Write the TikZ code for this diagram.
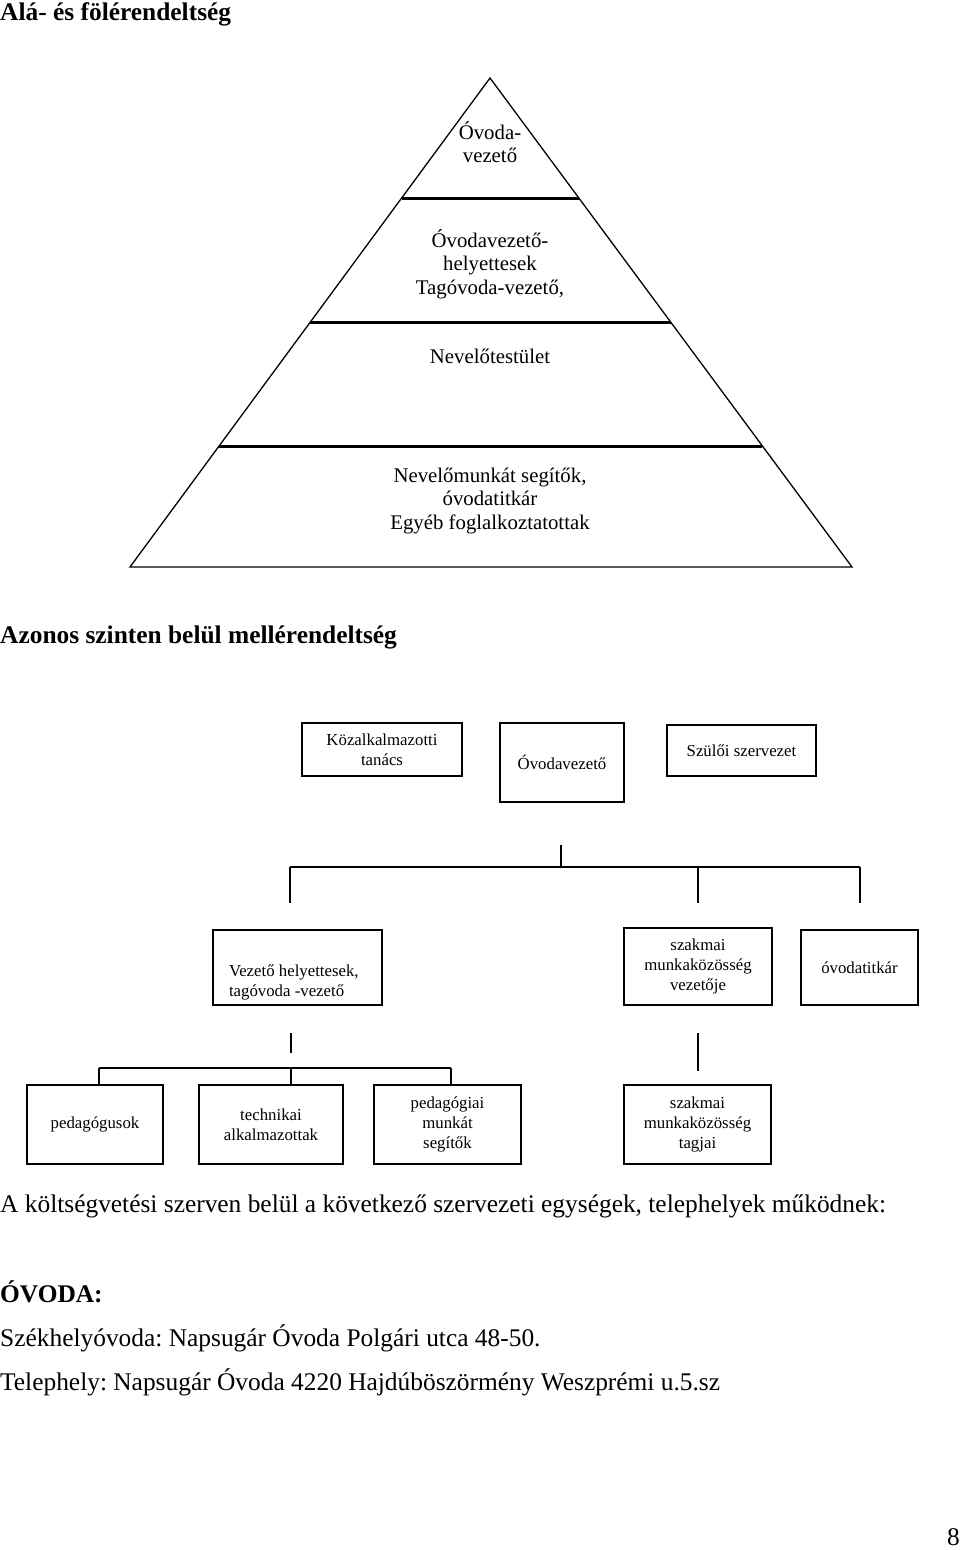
\documentclass[tikz,border=0pt]{standalone}
\usepackage{fontspec}
\setmainfont{Liberation Serif}
\usetikzlibrary{positioning,calc}
\frenchspacing

\begin{document}
\begin{tikzpicture}[x=1pt, y=-1pt,
  heading/.style={anchor=base west, inner sep=0pt, font=\fontsize{25.4}{30}\selectfont\bfseries},
  bodytext/.style={anchor=base west, inner sep=0pt, font=\fontsize{25.4}{30}\selectfont},
  pyrtext/.style={align=center, inner sep=0pt, font=\fontsize{20.8}{23.5}\selectfont},
  box/.style={draw, line width=2pt, align=center, inner sep=0pt, font=\fontsize{16.8}{20}\selectfont},
  conn/.style={line width=2pt},
  level/.style={line width=3pt}]
\useasboundingbox (0,0) rectangle (960,1550);

\node[heading] (title) at (0,20) {Alá- és fölérendeltség};

% pyramid
\coordinate (apex) at (490,78);
\coordinate (baseL) at (130,567);
\coordinate (baseR) at (852,567);
\draw[line width=1.3pt, line join=miter] (apex) -- (baseL) -- (baseR) -- cycle;
\draw[level] ($(apex)!0.2454!(baseL)$) -- ($(apex)!0.2454!(baseR)$);
\draw[level] ($(apex)!0.499!(baseL)$) -- ($(apex)!0.499!(baseR)$);
\draw[level] ($(apex)!0.7526!(baseL)$) -- ($(apex)!0.7526!(baseR)$);

\node[pyrtext] (lvla) at (490,142) {Óvoda-\\vezető};
\node[pyrtext] (lvlb) at (490,264) {Óvodavezető-\\helyettesek\\Tagóvoda-vezető,};
\node[pyrtext] (lvlc) at (490,356) {Nevelőtestület};
\node[pyrtext] (lvld) at (490,501) {Nevelőmunkát segítők,\\óvodatitkár\\Egyéb foglalkoztatottak};

\node[heading] (sub) at (0,643) {Azonos szinten belül mellérendeltség};

% first chart
\node[box, minimum width=160pt, minimum height=53pt] (koztan) at (382,749.5) {Közalkalmazotti\\tanács};
\node[box, minimum width=124pt, minimum height=79pt] (vezeto) at (562,762.5) {Óvodavezető};
\node[box, minimum width=149pt, minimum height=51pt] (szulo) at (741.5,750.5) {Szülői szervezet};

\node[box, minimum width=169pt, minimum height=75pt] (helyettes) at (297.5,967.5) {};
\node[box, draw=none, align=left, anchor=west] (helytext) at ([xshift=16pt, yshift=-15pt]helyettes.west) {Vezető helyettesek,\\tagóvoda -vezető};
\node[box, minimum width=148pt, minimum height=77pt] (mkvez) at (698,966.5) {szakmai\\munkaközösség\\vezetője};
\node[box, minimum width=117pt, minimum height=75pt] (titkar) at (859.5,967.5) {\raisebox{-4pt}{óvodatitkár}};

\coordinate (stema) at (561,845);
\coordinate (bara) at (561,867);
\coordinate (barl) at (290,867);
\coordinate (barm) at (698,867);
\coordinate (barr) at (860,867);
\draw[conn] (stema) -- (bara);
\draw[conn] (barl) -- (barr);
\draw[conn] (barl) -- ++(0,36);
\draw[conn] (barm) -- ++(0,36);
\draw[conn] (barr) -- ++(0,36);

% second chart
\node[box, minimum width=136pt, minimum height=79pt] (pedag) at (95,1124.5) {pedagógusok};
\node[box, minimum width=144pt, minimum height=79pt] (techn) at (271,1124.5) {technikai\\alkalmazottak};
\node[box, minimum width=147pt, minimum height=79pt] (pedmunka) at (447.5,1124.5) {pedagógiai\\munkát\\segítők};
\node[box, minimum width=147pt, minimum height=79pt] (mktag) at (697.5,1124.5) {szakmai\\munkaközösség\\tagjai};

\coordinate (stemb) at (291,1033);
\coordinate (barbl) at (99,1068);
\coordinate (barbm) at (291,1068);
\coordinate (barbr) at (451,1068);
\draw[conn] (stemb) -- ++(0,20);
\draw[conn] (barbl) -- (barbr);
\draw[conn] (barbl) -- (barbl |- pedag.north);
\draw[conn] (barbm) -- (barbm |- techn.north);
\draw[conn] (barbr) -- (barbr |- pedmunka.north);
\coordinate (stemc) at (698,1033);
\draw[conn] (stemc) -- ++(0,38);

\node[bodytext] (units) at (0,1212) {A költségvetési szerven belül a következő szervezeti egységek, telephelyek működnek:};
\node[heading] (ovoda) at (0,1302) {ÓVODA:};
\node[bodytext] (szekhely) at (0,1346) {Székhelyóvoda: Napsugár Óvoda Polgári utca 48-50.};
\node[bodytext] (telep) at (0,1390) {Telephely: Napsugár Óvoda 4220 Hajdúböszörmény Weszprémi u.5.sz};
\node[bodytext, anchor=base east] (pagenum) at (960,1545) {8};
\end{tikzpicture}
\end{document}
